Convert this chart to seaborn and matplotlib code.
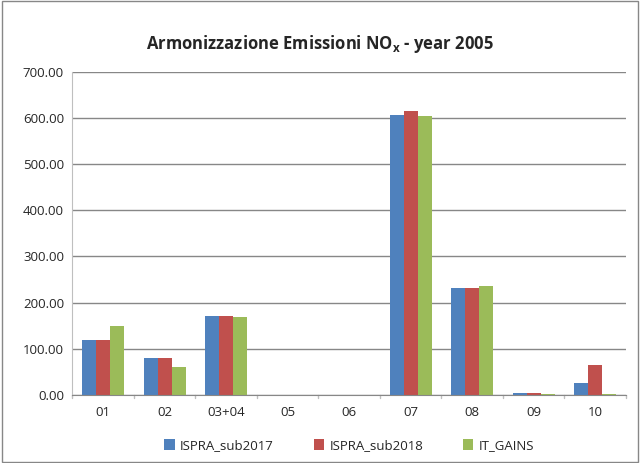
import numpy as np
import pandas as pd
import matplotlib
matplotlib.use("Agg")
import matplotlib.pyplot as plt
import seaborn as sns

# values
categories = ['01', '02', '03+04', '05', '06', '07', '08', '09', '10']
ispra_2017 = [118, 81, 170, 0, 0, 606, 232, 4.5, 26]
ispra_2018 = [120, 79, 170, 0, 0, 615, 232, 4.5, 65]
it_gains = [150, 61, 168, 0, 0, 604, 237, 2, 2]
series = ['ISPRA_sub2017', 'ISPRA_sub2018', 'IT_GAINS']
colors = ['#4F81BD', '#C0504D', '#9BBB59']

df = pd.DataFrame({'cat': categories * 3,
                   'val': ispra_2017 + ispra_2018 + it_gains,
                   'serie': np.repeat(series, len(categories))})

sns.set_style('white')
plt.rcParams['font.family'] = ['Open Sans', 'DejaVu Sans']

fig = plt.figure(figsize=(6.4, 4.63), dpi=100)
ax = fig.add_axes([0.113, 0.147, 0.865, 0.698])

sns.barplot(data=df, x='cat', y='val', hue='serie', palette=colors,
            width=0.68, saturation=1, linewidth=0, ax=ax, legend=True)

ax.set_ylim(0, 700)
ax.set_yticks(np.arange(0, 701, 100))
ax.set_yticklabels([f'{v:.2f}' for v in np.arange(0, 701, 100)], fontsize=9.5)
ax.yaxis.grid(True, color='#878787', linewidth=1)
ax.set_axisbelow(True)
ax.set_xlim(-0.5, len(categories) - 0.5)
ax.set_xlabel('')
ax.set_ylabel('')
ax.tick_params(axis='x', labelsize=9.5, length=0, pad=8)
ax.tick_params(axis='y', length=0, pad=6)
for x in np.arange(-0.5, len(categories), 1):
    ax.plot([x, x], [0, -6], color='#BFBFBF', lw=1, clip_on=False)

for s in ['top', 'right']:
    ax.spines[s].set_visible(False)
ax.spines['left'].set_color('#BFBFBF')
ax.spines['bottom'].set_color('#878787')

fig.text(0.5, 0.905, r'Armonizzazione Emissioni NO$_\mathregular{x}$ - year 2005',
         ha='center', va='center', fontsize=12, fontweight='bold')

leg = ax.legend(loc='upper center', bbox_to_anchor=(0.5, -0.1), ncol=3,
                frameon=False, fontsize=9.5, handlelength=0.8, handleheight=0.8,
                columnspacing=3, handletextpad=0.4)

fig.patches.append(plt.Rectangle((0.003, 0.003), 0.994, 0.994, transform=fig.transFigure,
                                 fill=False, edgecolor='#878787', lw=1))

fig.savefig('out.png', dpi=100)
